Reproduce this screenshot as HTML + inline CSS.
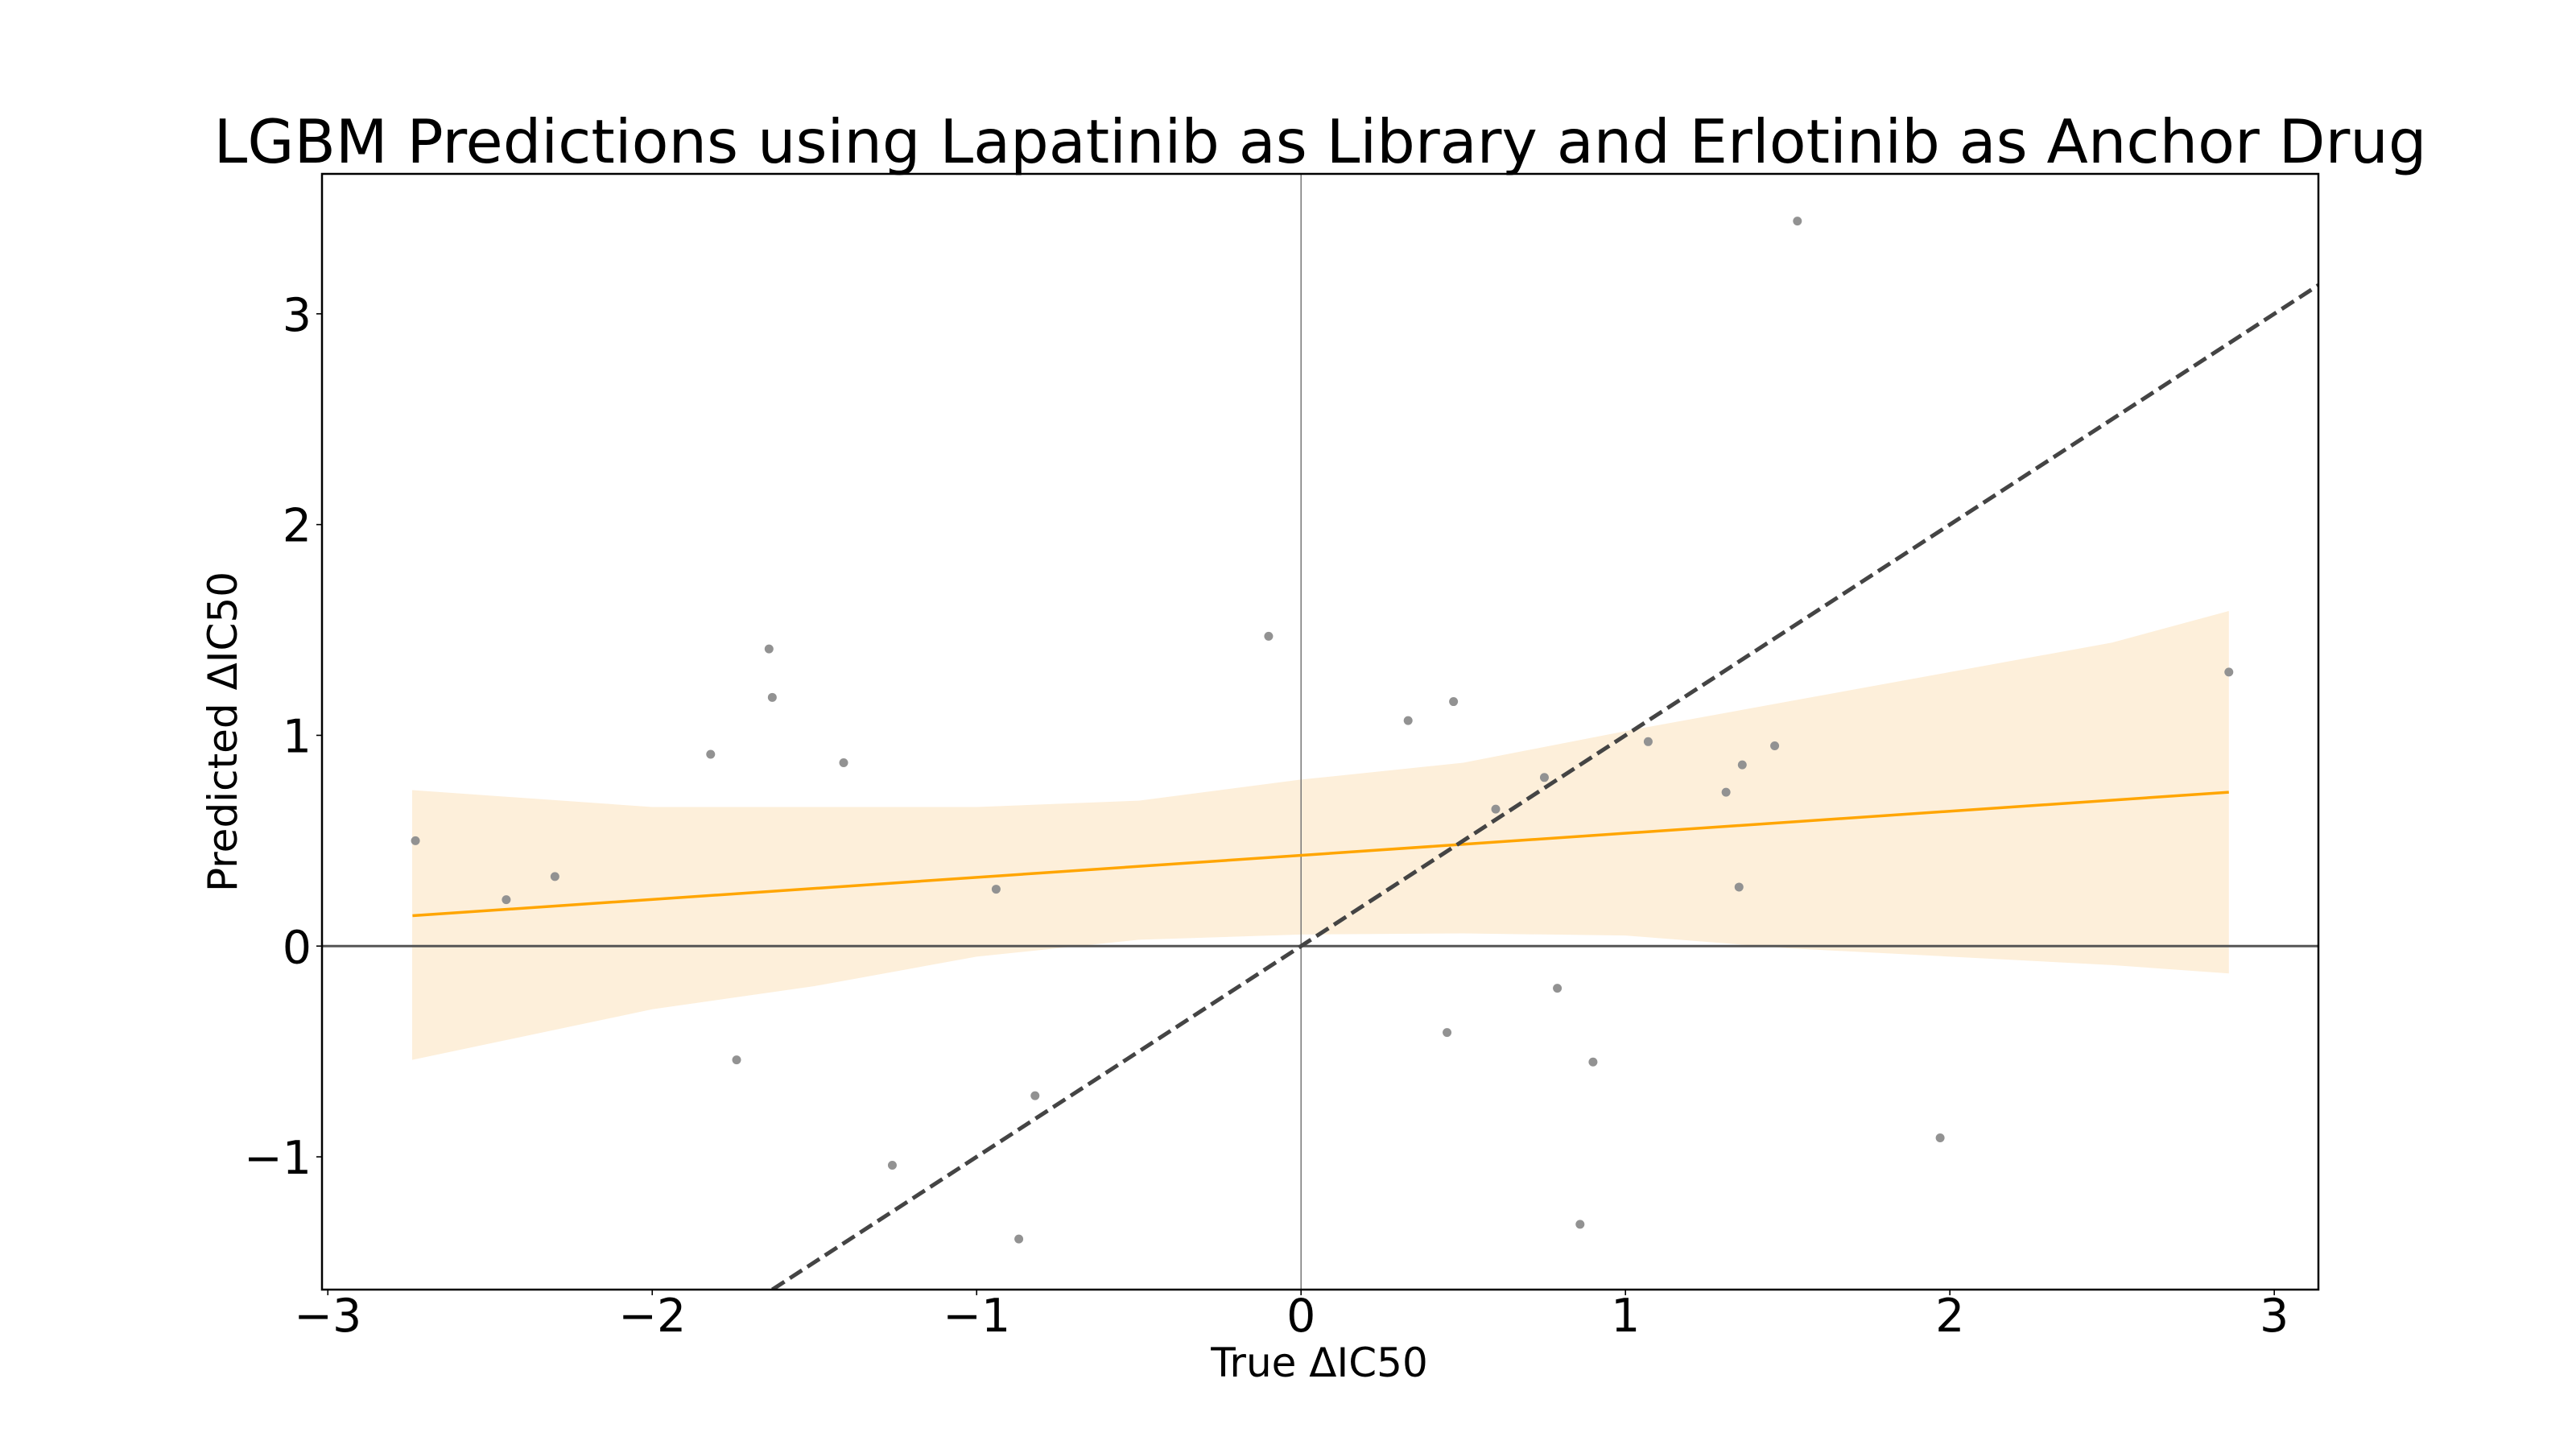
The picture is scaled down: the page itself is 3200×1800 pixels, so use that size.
<!DOCTYPE html>
<html><head><meta charset="utf-8"><style>
html,body{margin:0;padding:0;background:#fff;}
svg{display:block;font-family:"DejaVu Sans","Liberation Sans",sans-serif;}
</style></head><body>
<svg id="chart" width="3200" height="1800" viewBox="0 0 3200 1800">
<text x="1640" y="202" font-size="75" text-anchor="middle">LGBM Predictions using Lapatinib as Library and Erlotinib as Anchor Drug</text>
<text x="1639" y="1710" font-size="50" text-anchor="middle">True ΔIC50</text>
<text x="0" y="0" font-size="50" text-anchor="middle" transform="translate(294,909) rotate(-90)">Predicted ΔIC50</text>
<g id="plot"></g>
</svg>
<script>
const xs = [-2.73,-2.45,-2.30,-1.82,-1.64,-1.63,-1.74,-1.41,-1.26,-0.94,-0.87,-0.82,-0.10,0.33,0.47,0.45,0.60,0.75,0.79,0.86,0.90,1.07,1.31,1.36,1.35,1.46,1.53,1.97,2.86];
const ys = [0.50,0.22,0.33,0.91,1.41,1.18,-0.54,0.87,-1.04,0.27,-1.39,-0.71,1.47,1.07,1.16,-0.41,0.65,0.80,-0.20,-1.32,-0.55,0.97,0.73,0.86,0.28,0.95,3.44,-0.91,1.30];
const bandX = [-2.74,-2.0,-1.5,-1.0,-0.5,0,0.5,1.0,1.5,2.0,2.5,2.86];
const bandUpper = [0.74,0.66,0.66,0.66,0.69,0.79,0.87,1.02,1.16,1.30,1.44,1.59];
const bandLower = [-0.54,-0.30,-0.19,-0.05,0.03,0.055,0.06,0.05,-0.01,-0.05,-0.09,-0.13];
const fitX = [-2.739,2.86];
const fitY = [0.144,0.73];
const xTicks = [-3,-2,-1,0,1,2,3];
const yTicks = [-1,0,1,2,3];
const xTickLabels = ["\u22123","\u22122","\u22121","0","1","2","3"];
const yTickLabels = ["\u22121","0","1","2","3"];

const L=400,R=2880,T=216,B=1602;
const XMIN=-3.018,XMAX=3.136,YMIN=-1.630,YMAX=3.664;
const sx=v=>L+(v-XMIN)/(XMAX-XMIN)*(R-L);
const sy=v=>B-(v-YMIN)/(YMAX-YMIN)*(B-T);
const NS="http://www.w3.org/2000/svg";
const g=document.getElementById('plot');
function mk(tag,attrs,parent){const e=document.createElementNS(NS,tag);for(const k in attrs)e.setAttribute(k,attrs[k]);(parent||g).appendChild(e);return e;}

const defs=mk('defs',{});
const cp=mk('clipPath',{id:'clip'},defs);
mk('rect',{x:L,y:T,width:R-L,height:B-T},cp);
const inner=mk('g',{'clip-path':'url(#clip)'});

let d='';
bandX.forEach((x,i)=>{d+=(i?'L':'M')+sx(x)+','+sy(bandUpper[i]);});
for(let i=bandX.length-1;i>=0;i--){d+='L'+sx(bandX[i])+','+sy(bandLower[i]);}
d+='Z';
const band=mk('path',{d:d,fill:'#fdefda'},inner);



const h0=mk('line',{x1:L,x2:R,y1:sy(0),y2:sy(0),stroke:'#555',"stroke-width":3},inner);


const v0=mk('line',{x1:sx(0),x2:sx(0),y1:T,y2:B,stroke:'#777',"stroke-width":1.5},inner);



const fit=mk('line',{x1:sx(fitX[0]),y1:sy(fitY[0]),x2:sx(fitX[1]),y2:sy(fitY[1]),stroke:'#ffa500',"stroke-width":3.5},inner);



xs.forEach((x,i)=>{
  const c=mk('circle',{cx:sx(x),cy:sy(ys[i]),r:5.5,fill:'#929292'},inner);
  
  
});

const diag=mk('line',{x1:sx(YMIN),y1:sy(YMIN),x2:sx(XMAX),y2:sy(XMAX),stroke:'#444',"stroke-width":5,"stroke-dasharray":"18,8"},inner);



const frame=mk('rect',{x:L,y:T,width:R-L,height:B-T,fill:'none',stroke:'#000',"stroke-width":2.5});



xTicks.forEach((t,i)=>{
  mk('line',{x1:sx(t),x2:sx(t),y1:B,y2:B+7,stroke:'#000',"stroke-width":1.6});
  const tx=mk('text',{x:sx(t),y:B+52,"font-size":57,"text-anchor":"middle"});
  tx.textContent=xTickLabels[i];
  
  
});
yTicks.forEach((t,i)=>{
  mk('line',{x1:L-7,x2:L,y1:sy(t),y2:sy(t),stroke:'#000',"stroke-width":1.6});
  const tx=mk('text',{x:L-13,y:sy(t)+21,"font-size":57,"text-anchor":"end"});
  tx.textContent=yTickLabels[i];
  
  
});
</script>
</body></html>
